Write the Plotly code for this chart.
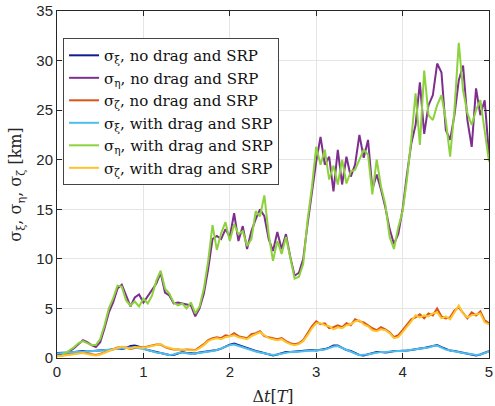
import plotly.graph_objects as go

t = [round(i * 0.05, 2) for i in range(101)]

xi_nd = [0.5,0.5,0.5,0.55,0.6,0.65,0.7,0.65,0.7,0.75,
         0.8,0.8,0.8,0.9,0.95,0.9,1.0,1.2,1.25,1.15,
         0.95,0.8,0.7,0.6,0.55,0.45,0.3,0.3,0.45,0.6,
         0.5,0.45,0.45,0.55,0.6,0.7,0.75,0.8,0.95,1.15,
         1.35,1.45,1.3,1.1,0.95,0.8,0.7,0.6,0.5,0.35,
         0.25,0.35,0.5,0.6,0.6,0.65,0.7,0.75,0.75,0.8,
         0.75,0.8,0.9,1.05,1.25,1.25,1.0,0.8,0.7,0.5,
         0.3,0.25,0.35,0.5,0.6,0.6,0.55,0.6,0.7,0.7,
         0.7,0.75,0.8,0.9,0.95,1.0,1.1,1.25,1.3,1.1,
         0.9,0.75,0.7,0.6,0.55,0.45,0.35,0.25,0.35,0.55,
         0.7]

eta_nd = [0.3,0.3,0.4,0.7,1.0,1.4,1.8,1.6,1.3,1.1,
          1.6,3.0,4.6,5.6,7.0,7.4,6.2,5.2,6.1,6.4,
          5.6,6.2,6.8,7.5,8.6,6.6,6.3,5.5,5.6,5.5,
          5.4,5.3,4.2,5.0,6.5,9.0,12.0,12.3,12.0,13.0,
          12.2,14.6,11.8,13.3,11.0,12.8,14.0,15.0,14.3,12.0,
          10.8,12.7,11.0,12.5,10.2,8.3,8.6,10.0,13.5,16.8,
          19.8,22.3,19.5,20.3,16.8,21.0,17.5,20.3,18.3,19.5,
          22.5,20.2,22.0,17.0,18.5,17.0,15.2,13.0,11.5,12.5,
          15.0,18.5,21.6,23.5,27.8,22.6,25.5,26.5,29.7,28.8,
          23.0,22.0,24.5,28.0,29.5,24.0,21.3,27.2,24.5,26.0,
          20.5]

zeta_nd = [0.2,0.25,0.3,0.35,0.4,0.5,0.55,0.45,0.35,0.3,
           0.4,0.6,0.75,0.9,1.05,1.1,1.05,0.9,1.0,1.1,
           1.05,1.15,1.25,1.35,1.35,1.1,0.95,0.85,0.85,0.8,
           0.85,0.8,0.8,1.1,1.4,1.8,2.0,2.1,2.0,2.3,
           2.2,2.5,2.2,2.1,2.0,2.4,2.5,2.7,2.2,2.1,
           2.0,1.9,2.0,1.7,1.5,1.4,1.5,1.8,2.5,3.2,
           3.7,3.4,3.5,3.0,3.1,3.3,3.1,3.5,3.3,3.9,
           3.7,3.6,3.3,3.0,2.8,3.1,2.9,2.6,2.1,2.3,
           2.8,3.3,3.9,4.1,4.4,4.0,4.5,4.3,5.0,4.2,
           4.0,4.1,4.8,5.1,4.6,4.0,4.6,4.3,4.7,3.8,
           3.5]

xi_wd = [0.45,0.5,0.55,0.6,0.6,0.6,0.65,0.65,0.7,0.7,
         0.75,0.8,0.85,0.85,0.9,0.95,1.0,1.05,1.05,1.0,
         0.9,0.8,0.65,0.55,0.5,0.4,0.3,0.35,0.5,0.55,
         0.5,0.4,0.45,0.5,0.6,0.65,0.7,0.8,0.95,1.1,
         1.3,1.35,1.2,1.05,0.9,0.8,0.65,0.55,0.45,0.35,
         0.3,0.35,0.45,0.55,0.6,0.6,0.65,0.7,0.75,0.75,
         0.75,0.8,0.85,1.0,1.15,1.2,1.0,0.8,0.65,0.45,
         0.3,0.3,0.35,0.45,0.55,0.6,0.6,0.65,0.65,0.7,
         0.7,0.75,0.8,0.85,0.95,1.0,1.05,1.2,1.25,1.05,
         0.85,0.75,0.65,0.6,0.5,0.45,0.35,0.3,0.35,0.5,
         0.65]

eta_wd = [0.2,0.2,0.5,0.8,1.1,1.5,1.7,1.5,1.3,1.3,
          1.9,3.3,5.0,6.0,7.3,7.2,5.8,5.3,5.7,5.2,
          6.0,5.5,6.3,7.8,8.8,7.0,6.5,5.6,5.3,5.5,
          5.0,5.6,4.5,5.2,7.0,9.8,13.4,10.9,12.6,13.7,
          11.8,13.5,12.5,12.8,11.3,12.0,14.8,14.3,16.4,12.5,
          9.8,11.8,10.5,12.2,10.0,8.0,8.2,9.5,13.9,17.2,
          21.3,19.5,21.0,18.0,19.4,17.5,20.0,17.6,18.8,19.0,
          20.0,21.0,20.5,16.5,20.0,17.3,15.5,12.2,11.0,13.2,
          14.8,18.0,22.0,26.7,21.5,29.0,24.5,24.0,25.5,26.5,
          24.0,20.3,25.0,31.8,27.0,24.7,23.5,25.0,26.0,23.0,
          19.8]

zeta_wd = [0.15,0.2,0.25,0.3,0.35,0.45,0.5,0.4,0.3,0.25,
           0.35,0.55,0.7,0.85,1.0,1.15,1.0,0.95,1.1,1.05,
           1.0,1.1,1.2,1.3,1.4,1.15,1.0,0.9,0.8,0.85,
           0.8,0.75,0.75,1.0,1.3,1.7,1.9,2.0,1.9,2.1,
           2.2,2.3,2.1,2.0,1.9,2.2,2.4,2.6,2.3,2.0,
           1.9,1.8,1.9,1.6,1.4,1.3,1.4,1.7,2.3,3.0,
           3.5,3.5,3.3,3.2,2.9,3.1,3.0,3.3,3.4,3.7,
           3.8,3.4,3.2,2.8,2.7,2.9,2.8,2.5,2.0,2.1,
           2.6,3.1,3.7,4.3,4.1,4.3,4.2,4.5,4.6,4.0,
           4.2,3.9,4.6,5.3,4.5,4.1,4.3,4.4,4.5,3.6,
           3.4]

names = ["σ<sub>ξ</sub>, no drag and SRP",
         "σ<sub>η</sub>, no drag and SRP",
         "σ<sub>ζ</sub>, no drag and SRP",
         "σ<sub>ξ</sub>, with drag and SRP",
         "σ<sub>η</sub>, with drag and SRP",
         "σ<sub>ζ</sub>, with drag and SRP"]
series = [xi_nd, eta_nd, zeta_nd, xi_wd, eta_wd, zeta_wd]
colors = ["#101d8c", "#7E2F8E", "#D95319", "#4DBEEE", "#8CD23C", "#FDC52A"]

fig = go.Figure()
for name, ys, c in zip(names, series, colors):
    fig.add_trace(go.Scatter(x=t, y=ys, mode="lines", name=name,
                             line=dict(color=c, width=2)))

axis_common = dict(showline=True, linecolor="#262626", linewidth=1, mirror="ticks",
                   ticks="inside", ticklen=5, tickcolor="#262626",
                   showgrid=True, gridcolor="#e5e5e5", gridwidth=1, zeroline=False,
                   ticklabeloverflow="allow",
                   tickfont=dict(family="Liberation Sans", size=15, color="#262626"))

fig.update_layout(
    width=495, height=406,
    margin=dict(l=57, r=2, t=10, b=48),
    paper_bgcolor="white", plot_bgcolor="white",
    xaxis=dict(range=[0, 5], dtick=1,
               title=dict(text="Δ<i>t</i>[<i>T</i>]", standoff=12,
                          font=dict(family="DejaVu Serif", size=16, color="#262626")),
               **axis_common),
    yaxis=dict(range=[0, 35], dtick=5,
               title=dict(text="σ<sub>ξ</sub>, σ<sub>η</sub>, σ<sub>ζ</sub> [km]", standoff=10,
                          font=dict(family="DejaVu Serif", size=16, color="#262626")),
               **axis_common),
    legend=dict(x=0.014, y=0.922, xanchor="left", yanchor="top",
                bgcolor="white", bordercolor="#444444", borderwidth=1,
                font=dict(family="DejaVu Serif", size=15, color="#111111"),
                tracegroupgap=0),
    showlegend=True,
)

fig.write_html("out.html")
